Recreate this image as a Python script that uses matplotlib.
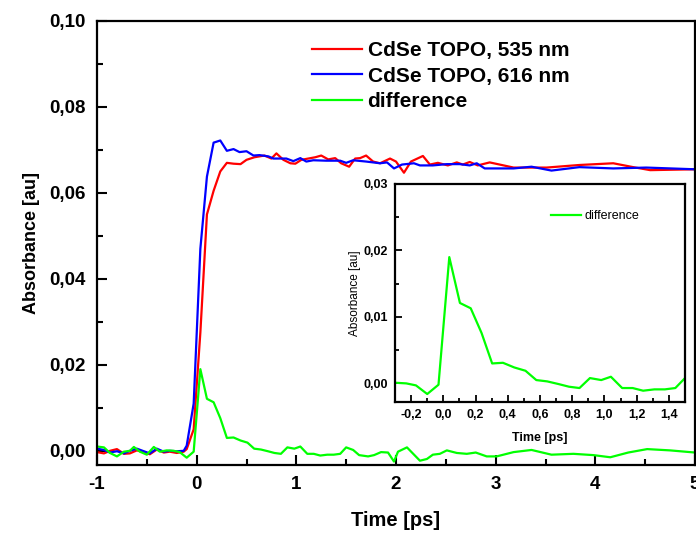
import matplotlib
matplotlib.use("Agg")
import matplotlib.pyplot as plt
from matplotlib.ticker import MultipleLocator, FuncFormatter

plt.rcParams['font.family'] = ['Liberation Sans', 'DejaVu Sans']

# ---- data ----
t_red = [-1.00, -0.93, -0.87, -0.80, -0.73, -0.67, -0.60, -0.53, -0.47, -0.40, -0.33, -0.27,
         -0.20, -0.13, -0.10, -0.03, 0.037, 0.103, 0.17, 0.237, 0.303, 0.37, 0.44, 0.50, 0.58,
         0.68, 0.75, 0.80, 0.87, 0.94, 0.99, 1.05, 1.12, 1.19, 1.25, 1.32, 1.39, 1.45, 1.53,
         1.59, 1.64, 1.70, 1.77, 1.84, 1.94, 2.00, 2.08, 2.15, 2.27, 2.34, 2.42, 2.52, 2.61,
         2.67, 2.74, 2.82, 2.94, 3.18, 3.51, 3.84, 4.18, 4.38, 4.55, 5.00]
red_535 = [-0.0003, -0.0006, 0.0000, 0.0004, -0.0007, -0.0006, 0.0001, -0.0003, -0.0008, 0.0003,
           -0.0004, -0.0002, -0.0005, -0.0002, 0.0004, 0.0050, 0.0275, 0.0550, 0.0605, 0.0650,
           0.0670, 0.0668, 0.0667, 0.0677, 0.0683, 0.0687, 0.0680, 0.0692, 0.0677, 0.0669,
           0.0668, 0.0677, 0.0680, 0.0683, 0.0687, 0.0678, 0.0681, 0.0669, 0.0661, 0.0680,
           0.0681, 0.0687, 0.0673, 0.0669, 0.0680, 0.0673, 0.0647, 0.0673, 0.0686, 0.0666,
           0.0670, 0.0664, 0.0671, 0.0666, 0.0672, 0.0664, 0.0671, 0.0659, 0.0659, 0.0665,
           0.0669, 0.0660, 0.0653, 0.0655]

t_blue = [-1.00, -0.93, -0.87, -0.80, -0.73, -0.67, -0.60, -0.53, -0.47, -0.40, -0.33, -0.27,
          -0.20, -0.13, -0.10, -0.03, 0.037, 0.103, 0.17, 0.237, 0.303, 0.37, 0.43, 0.50, 0.57,
          0.63, 0.72, 0.77, 0.84, 0.90, 0.97, 1.04, 1.10, 1.17, 1.30, 1.44, 1.50, 1.57, 1.70,
          1.84, 1.91, 1.98, 2.06, 2.18, 2.24, 2.37, 2.51, 2.64, 2.74, 2.81, 2.89, 3.18, 3.36,
          3.56, 3.84, 4.18, 4.51, 5.00]
blue_616 = [0.0005, 0.0002, -0.0004, -0.0001, -0.0006, 0.0000, 0.0005, -0.0001, -0.0006, 0.0005,
            -0.0002, 0.0000, -0.0001, 0.0000, 0.0012, 0.0110, 0.0470, 0.0638, 0.0717, 0.0722,
            0.0698, 0.0702, 0.0695, 0.0697, 0.0687, 0.0688, 0.0685, 0.0680, 0.0680, 0.0680,
            0.0674, 0.0681, 0.0673, 0.0676, 0.0675, 0.0675, 0.0670, 0.0676, 0.0673, 0.0669,
            0.0671, 0.0657, 0.0666, 0.0669, 0.0664, 0.0664, 0.0667, 0.0667, 0.0664, 0.0669,
            0.0657, 0.0657, 0.0661, 0.0652, 0.0660, 0.0657, 0.0659, 0.0655]

t_diff = [-1.00, -0.93, -0.87, -0.80, -0.73, -0.67, -0.63, -0.57, -0.50, -0.43, -0.37, -0.30,
          -0.23, -0.17, -0.10, -0.03, 0.037, 0.103, 0.17, 0.237, 0.303, 0.37, 0.44, 0.51,
          0.577, 0.645, 0.715, 0.78, 0.845, 0.91, 0.98, 1.04, 1.11, 1.175, 1.24, 1.31, 1.375,
          1.44, 1.50, 1.57, 1.63, 1.72, 1.78, 1.85, 1.92, 1.98, 2.02, 2.11, 2.24, 2.31, 2.37,
          2.44, 2.51, 2.61, 2.71, 2.80, 2.91, 3.01, 3.18, 3.36, 3.56, 3.78, 3.98, 4.15, 4.33,
          4.52, 4.75, 5.00]
difference = [0.0010, 0.0008, -0.0005, -0.0013, -0.0002, 0.0000, 0.0009, -0.0002, -0.0009,
              0.0009, -0.0002, 0.0001, 0.0000, -0.0003, -0.0016, -0.0002, 0.0190, 0.0121,
              0.0113, 0.0076, 0.0030, 0.0031, 0.0024, 0.0019, 0.0005, 0.0003, -0.0001,
              -0.0005, -0.0007, 0.0008, 0.0005, 0.0010, -0.0007, -0.0007, -0.0011, -0.0009,
              -0.0009, -0.0007, 0.0008, 0.0002, -0.0010, -0.0013, -0.0010, -0.0003, -0.0004,
              -0.0025, -0.0002, 0.0008, -0.0023, -0.0019, -0.0009, -0.0007, 0.0001, -0.0005,
              -0.0007, -0.0004, -0.0013, -0.0013, -0.0003, 0.0002, -0.0009, -0.0007, -0.0010,
              -0.0015, -0.0004, 0.0004, 0.0001, -0.0004]

labels = ["CdSe TOPO, 535 nm", "CdSe TOPO, 616 nm", "difference"]
colors = ["#ff0000", "#0000ff", "#00ff00"]


def comma_fmt(decimals):
    def f(v, pos):
        s = f"{v:.{decimals}f}".replace(".", ",")
        if s.startswith("-") and float(s.replace(",", ".")) == 0:
            s = s[1:]
        return s
    return FuncFormatter(f)


fig = plt.figure(figsize=(6.96, 5.34), dpi=100)
ax = fig.add_axes([97 / 696, 1 - 465 / 534, 598 / 696, 444 / 534])

lw = 1.6
ax.plot(t_red, red_535, color=colors[0], lw=lw, label=labels[0])
ax.plot(t_blue, blue_616, color=colors[1], lw=lw, label=labels[1])
ax.plot(t_diff, difference, color=colors[2], lw=lw, label=labels[2])

ax.set_xlim(-1, 5)
ax.set_ylim(-0.0033, 0.10)
ax.xaxis.set_major_locator(MultipleLocator(1))
ax.xaxis.set_minor_locator(MultipleLocator(0.5))
ax.yaxis.set_major_locator(MultipleLocator(0.02))
ax.yaxis.set_minor_locator(MultipleLocator(0.01))
ax.xaxis.set_major_formatter(comma_fmt(0))
ax.yaxis.set_major_formatter(comma_fmt(2))
ax.tick_params(which='both', direction='in', top=False, right=False, width=1.5)
ax.tick_params(which='major', length=7, labelsize=13.5, pad=8)
ax.tick_params(which='minor', length=4)
for lab in ax.get_xticklabels() + ax.get_yticklabels():
    lab.set_fontweight('bold')
for sp in ax.spines.values():
    sp.set_linewidth(1.6)
ax.set_xlabel("Time [ps]", fontsize=14.5, fontweight='bold', labelpad=13)
ax.set_ylabel("Absorbance [au]", fontsize=13, fontweight='bold', labelpad=7)

leg = ax.legend(loc='upper left', bbox_to_anchor=(302 / 696, 1 - 31 / 534),
                bbox_transform=fig.transFigure, frameon=False, borderpad=0,
                handlelength=2.4, handletextpad=0.25, labelspacing=0.3,
                prop={'size': 15, 'weight': 'bold'})

# ---- inset ----
ins = fig.add_axes([395 / 696, 1 - 402 / 534, 290 / 696, 218 / 534])
ins.plot(t_diff, difference, color=colors[2], lw=lw, label=labels[2])
ins.set_xlim(-0.3, 1.5)
ins.set_ylim(-0.0028, 0.03)
ins.xaxis.set_major_locator(MultipleLocator(0.2))
ins.xaxis.set_minor_locator(MultipleLocator(0.1))
ins.yaxis.set_major_locator(MultipleLocator(0.01))
ins.yaxis.set_minor_locator(MultipleLocator(0.005))
ins.xaxis.set_major_formatter(comma_fmt(1))
ins.yaxis.set_major_formatter(comma_fmt(2))
ins.tick_params(which='both', direction='in', top=False, right=False, width=1.3)
ins.tick_params(which='major', length=5, labelsize=9, pad=5)
ins.tick_params(which='minor', length=3)
for lab in ins.get_xticklabels() + ins.get_yticklabels():
    lab.set_fontweight('bold')
for sp in ins.spines.values():
    sp.set_linewidth(1.6)
ins.set_xlabel("Time [ps]", fontsize=9, fontweight='bold', labelpad=8)
ins.set_ylabel("Absorbance [au]", fontsize=8.5, labelpad=2)
ins.legend(loc='upper left', bbox_to_anchor=(545 / 696, 1 - 204 / 534),
           bbox_transform=fig.transFigure, frameon=False, borderpad=0,
           handlelength=2.4, handletextpad=0.25, prop={'size': 9})

fig.savefig("out.png", dpi=100)
